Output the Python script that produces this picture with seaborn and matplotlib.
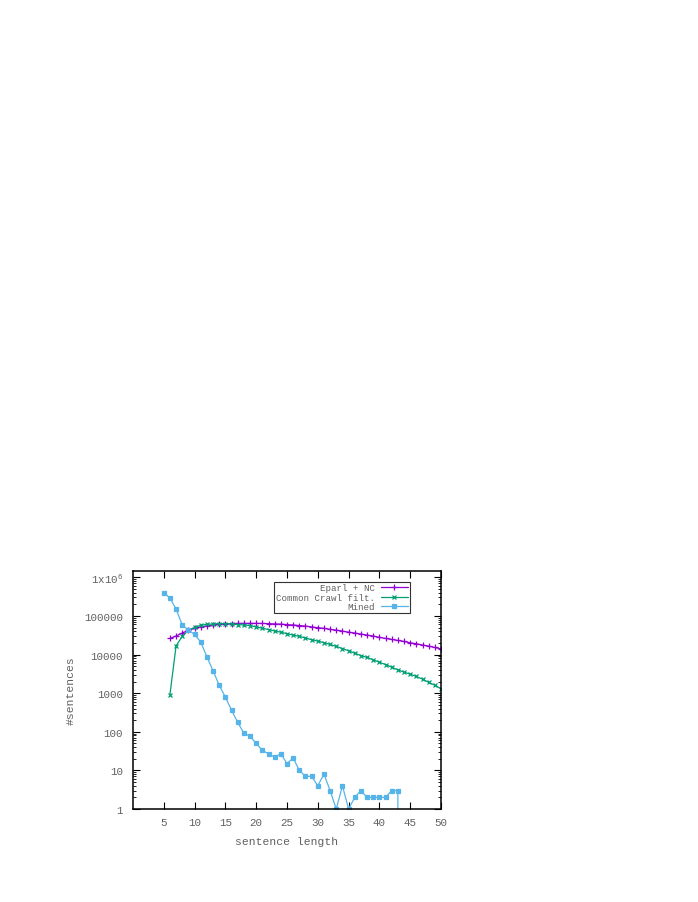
import matplotlib
matplotlib.use("Agg")
import matplotlib.pyplot as plt
import matplotlib.ticker as mticker
import numpy as np
import pandas as pd
import seaborn as sns

# ── data ─────────────────────────────────────────────────────────────────────
eparl_len = list(range(6, 51))
eparl_cnt = [26000, 30100, 36000, 42300, 47700, 51700, 54800, 58200, 60600,
             61800, 63100, 63800, 64000, 64000, 64000, 63800, 63000, 62000,
             61300, 59400, 58200, 56200, 54500, 51700, 49400, 47700, 44800,
             42800, 40300, 37900, 36000, 33800, 31800, 30100, 27800, 26100,
             24600, 23100, 21800, 20100, 19000, 17600, 16500, 15200, 14000]

crawl_len = list(range(6, 51))
crawl_cnt = [920, 16800, 29500, 42300, 50600, 57100, 60600, 61800, 63100,
             63100, 61800, 59400, 58200, 56200, 51700, 47700, 44400, 40600,
             37900, 34600, 31900, 29500, 26700, 24100, 22300, 20200, 18200,
             16200, 14300, 12500, 10800, 9400, 8400, 7300, 6300, 5500, 4700,
             4000, 3500, 3100, 2700, 2300, 1900, 1600, 1300]

mined_len = list(range(5, 45))
mined_cnt = [400000, 290000, 150000, 58000, 43000, 33000, 21000, 8700, 3800,
             1600, 790, 360, 175, 92, 76, 50, 33, 27, 22, 27, 15, 21, 10, 7,
             7, 4, 8, 3, 1, 4, 1, 2, 3, 2, 2, 2, 2, 3, 3, 0]

series = [
    ("Eparl + NC", eparl_len, eparl_cnt, "#9400d3", "+", 3.8),
    ("Common Crawl filt.", crawl_len, crawl_cnt, "#009e73", "x", 3.4),
    ("Mined", mined_len, mined_cnt, "#56b4e9", "s", 2.6),
]

x_ticks = [5, 10, 15, 20, 25, 30, 35, 40, 45, 50]
y_ticks = [1, 10, 100, 1000, 10000, 100000, 1000000]
y_tick_labels = ["1", "10", "100", "1000", "10000", "100000", "1x10$^{6}$"]

# ── style ────────────────────────────────────────────────────────────────────
sns.set_style("ticks")
plt.rcParams["font.family"] = ["Liberation Mono", "DejaVu Sans Mono"]
plt.rcParams["mathtext.default"] = "regular"
text_col = "#606060"

fig = plt.figure(figsize=(6.98, 9.03), dpi=100)
ax = fig.add_axes([0.1905, 0.103, 0.4413, 0.2635])

for label, xs, ys, col, mk, ms in series:
    df = pd.DataFrame({"len": xs, "cnt": ys})
    sns.lineplot(
        data=df, x="len", y="cnt", ax=ax, label=label,
        color=col, linewidth=0.9, marker=mk, markersize=ms,
        markeredgecolor=col, markerfacecolor=col, markeredgewidth=0.9,
        estimator=None, sort=False,
    )

ax.set_yscale("log")
ax.set_xlim(0, 50)
ax.set_ylim(1, 1.45e6)

ax.xaxis.set_major_locator(mticker.FixedLocator(x_ticks))
ax.yaxis.set_major_locator(mticker.FixedLocator(y_ticks))
ax.yaxis.set_major_formatter(mticker.FixedFormatter(y_tick_labels))
ax.yaxis.set_minor_locator(mticker.LogLocator(base=10, subs=np.arange(2, 10)))
ax.yaxis.set_minor_formatter(mticker.NullFormatter())

ax.tick_params(axis="both", which="both", direction="in",
               top=True, right=True, colors="black",
               labelcolor=text_col, labelsize=7.8)
ax.tick_params(axis="both", which="major", length=5, width=0.8)
ax.tick_params(axis="y", which="minor", length=2.5, width=0.6)
ax.tick_params(axis="x", pad=6)
ax.tick_params(axis="y", pad=7)

for sp in ax.spines.values():
    sp.set_linewidth(1.1)
    sp.set_color("black")

ax.set_xlabel("sentence length", fontsize=8.2, color=text_col, labelpad=6)
ax.set_ylabel("#sentences", fontsize=8.2, color=text_col, labelpad=6)

leg = ax.legend(
    loc="upper right", bbox_to_anchor=(0.899, 0.956),
    markerfirst=False, fontsize=6.6, frameon=True, fancybox=False,
    framealpha=1, edgecolor="#333333", borderpad=0.2,
    labelspacing=0.05, handlelength=3.0, handletextpad=0.6,
    borderaxespad=0,
)
leg.get_frame().set_linewidth(0.8)
for t in leg.get_texts():
    t.set_color(text_col)

fig.savefig("out.png", dpi=100)
